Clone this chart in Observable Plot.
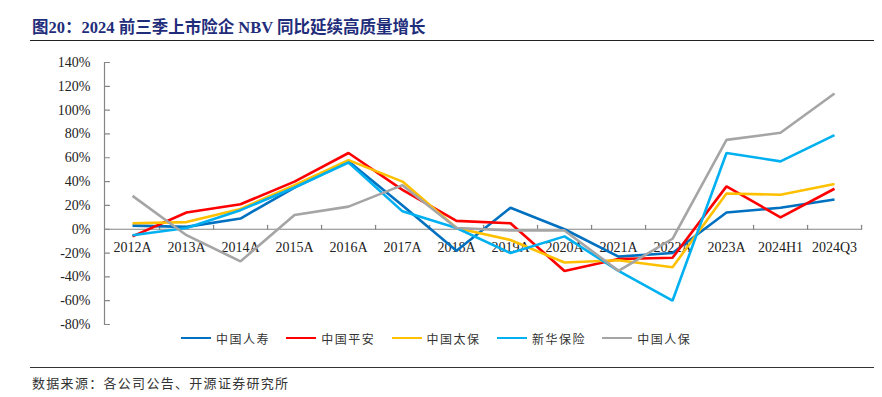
<!DOCTYPE html>
<html><head><meta charset="utf-8">
<script src="https://cdn.jsdelivr.net/npm/d3@7"></script>
<script src="https://cdn.jsdelivr.net/npm/@observablehq/plot@0.6"></script>
<style>
body{margin:0;background:#fff;}
#wrap{position:relative;width:882px;height:397px;overflow:hidden;background:#fff;}
#title{position:absolute;left:32px;top:17px;font-size:16.5px;line-height:22px;font-weight:bold;color:#1f2d7a;white-space:nowrap;font-family:"Liberation Serif","Noto Sans CJK SC",serif;}
#tline{position:absolute;left:30px;top:40px;width:844px;height:0;border-top:1.6px solid #222;}
#chart{position:absolute;left:0;top:0;}
.leg{position:absolute;top:330px;height:16px;display:flex;align-items:center;font-family:"Noto Sans CJK SC",sans-serif;font-size:12px;letter-spacing:1.5px;color:#333;white-space:nowrap;}
.leg i{display:inline-block;width:30px;height:2.5px;margin-right:5px;}
#fline{position:absolute;left:30px;top:367px;width:844px;height:0;border-top:1.6px solid #333;}
#foot{position:absolute;left:32px;top:374px;font-size:13px;line-height:18px;letter-spacing:1.3px;color:#333;white-space:nowrap;font-family:"Noto Sans CJK SC",sans-serif;}
</style>
</head><body>
<div id="wrap">
  <div id="title"></div>
  <div id="tline"></div>
  <div id="chart"></div>
  <div id="legend"></div>
  <div id="fline"></div>
  <div id="foot"></div>
</div>
<script>
const titleText = "图20：2024 前三季上市险企 NBV 同比延续高质量增长";
const footText = "数据来源：各公司公告、开源证券研究所";
const categories = ["2012A","2013A","2014A","2015A","2016A","2017A","2018A","2019A","2020A","2021A","2022A","2023A","2024H1","2024Q3"];
const seriesNames = ["中国人寿","中国平安","中国太保","新华保险","中国人保"];
const seriesColors = ["#0070C0","#FF0000","#FFC000","#00B0F0","#A5A5A5"];
const chinaLife = [3, 2, 9, 35, 57, 20, -18, 18, 0, -23, -20, 14, 18, 25];
const pingAn    = [-6, 14, 21, 40, 64, 33, 7, 5, -35, -25, -24, 36, 10, 34];
const cpic      = [5, 6, 17, 37, 58, 40, 1, -9, -28, -26, -32, 30, 29, 38];
const nci       = [-5, 1, 16, 35, 56, 15, 1, -20, -6, -35, -60, 64, 57, 79];
const picc      = [28, -5, -27, 12, 19, 37, 1, -1, -1, -35, -8, 75, 81, 114];
const yTicks = [-80,-60,-40,-20,0,20,40,60,80,100,120,140];

const allSeries = [chinaLife, pingAn, cpic, nci, picc];
const data = [];
allSeries.forEach((vals, s) => vals.forEach((v, i) => data.push({series: seriesNames[s], cat: categories[i], value: v})));

document.getElementById("title").textContent = titleText;
document.getElementById("foot").textContent = footText;

const W = 882, H = 340;
const mL = 104, mR = 20, mT = 62, mB = 16;
const step = (W - mL - mR) / categories.length;
const font = "Liberation Serif, Times New Roman, serif";
const tickShape = {draw(ctx, l){ ctx.moveTo(0, 0); ctx.lineTo(0, -l); }};

const chart = Plot.plot({
  width: W, height: H,
  marginLeft: mL, marginRight: mR, marginTop: mT, marginBottom: mB,
  style: {fontFamily: font, fontSize: "14px", color: "#222", background: "transparent"},
  x: {type: "point", domain: categories, padding: 0.5, axis: null},
  y: {domain: [-80, 140], axis: null},
  color: {domain: seriesNames, range: seriesColors},
  marks: [
    Plot.frame({anchor: "left", stroke: "#858585", strokeWidth: 1.2}),
    Plot.axisY({ticks: yTicks, label: null, tickSize: 0, tickPadding: 14, tickFormat: d => d + "%", fontSize: 14, fill: "#222", stroke: null}),
    Plot.vector(yTicks, {x: () => categories[0], y: d => d, dx: -step/2, length: 4, rotate: 90, anchor: "start", shape: tickShape, stroke: "#858585", strokeWidth: 1.2}),
    Plot.ruleY([0], {stroke: "#858585", strokeWidth: 1.2}),
    Plot.vector(categories, {x: d => d, y: 0, dx: step/2, length: 4, rotate: 0, anchor: "start", shape: tickShape, stroke: "#858585", strokeWidth: 1.2}),
    Plot.text(categories, {x: d => d, y: 0, text: d => d, dy: 13, lineAnchor: "top", fontSize: 14, fill: "#222", fontFamily: font}),
    Plot.line(data, {x: "cat", y: "value", z: "series", stroke: "series", strokeWidth: 2.6, strokeLinejoin: "miter", strokeLinecap: "butt"})
  ]
});
document.getElementById("chart").appendChild(chart);

const legend = document.getElementById("legend");
seriesNames.forEach((name, i) => {
  const d = document.createElement("div");
  d.className = "leg";
  d.style.left = (181 + 105.3 * i) + "px";
  const sw = document.createElement("i");
  sw.style.background = seriesColors[i];
  d.appendChild(sw);
  d.appendChild(document.createTextNode(name));
  legend.appendChild(d);
});
</script>
</body></html>
